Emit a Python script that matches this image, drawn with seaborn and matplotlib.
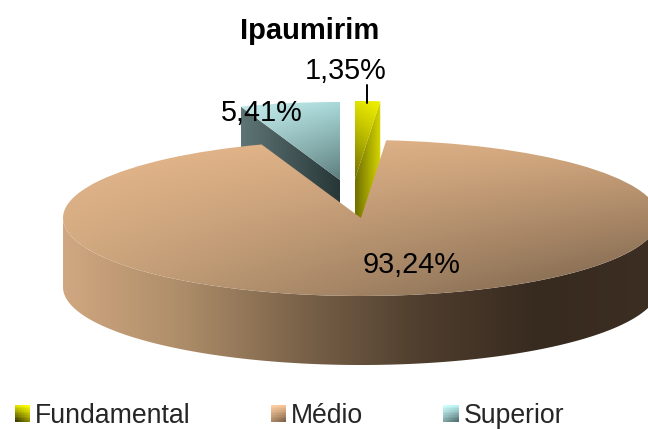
import numpy as np
import matplotlib
matplotlib.use("Agg")
import matplotlib.pyplot as plt
import seaborn as sns
from matplotlib.colors import to_rgb
from matplotlib.legend_handler import HandlerBase
from matplotlib.patches import Patch, Polygon, Rectangle

categories = ["Fundamental", "Médio", "Superior"]
values = [1.35, 93.24, 5.41]
value_labels = ["1,35%", "93,24%", "5,41%"]
title = "Ipaumirim"

W, H = 648, 429
CX, CY, RX, RY, DEPTH = 361, 218, 298, 78, 69
centers_px = {"Fundamental": (355, 179), "Médio": (361, 218), "Superior": (340, 180)}

top_colors = {  # corners: TL, TR, BL, BR
    "Fundamental": ("#e2e200", "#f0f000", "#6e6e00", "#a8a800"),
    "Médio": ("#e8b98e", "#d4a97f", "#c9a37b", "#77604a"),
    "Superior": ("#c6eded", "#aadada", "#8fb5b5", "#5d7c7c"),
}
wall_stops = {
    "Fundamental": ["#6e6e00", "#d8d800"],
    "Médio": ["#d0a780", "#ad8d69", "#7a6249", "#4f3e2e", "#372a1f", "#3c2e22"],
    "Superior": ["#5f7575", "#273637"],
}
legend_corners = {
    "Fundamental": ("#dede00", "#ffff00", "#3a3a00", "#8c8c00"),
    "Médio": ("#ffcfa0", "#f4c295", "#b08c68", "#7d6449"),
    "Superior": ("#d0ffff", "#b8f0f0", "#80a8a8", "#557070"),
}

sns.set_theme(style="white")
plt.rcParams["font.family"] = ["Liberation Sans", "DejaVu Sans"]
fig, ax = plt.subplots(figsize=(W / 100, H / 100), dpi=100)
fig.subplots_adjust(0, 0, 1, 1)


def bilinear(corners, n=64):
    tl, tr, bl, br = [np.array(to_rgb(c)) for c in corners]
    u, v = np.meshgrid(np.linspace(0, 1, n), np.linspace(0, 1, n))
    u, v = u[..., None], v[..., None]
    return (tl * (1 - u) + tr * u) * (1 - v) + (bl * (1 - u) + br * u) * v


def to_data(px, py):
    return (px - CX) / RX, (CY - py) / RY


wedges, _ = ax.pie(values, startangle=90, counterclock=False, radius=1)
depth = DEPTH / RY
for name, wedge in zip(categories, wedges):
    cx, cy = to_data(*centers_px[name])
    wedge.set_center((cx, cy))
    wedge.set_facecolor("none")
    wedge.set_edgecolor("none")
    base = 10 if name == "Médio" else 1
    # side wall: rim front for the large slice, the cut face for the pulled-out ones
    if name == "Médio":
        t = np.radians(np.linspace(180, 360, 240))
        xs, ys = cx + np.cos(t), cy + np.sin(t)
        verts = np.r_[np.c_[xs, ys], np.c_[xs[::-1], ys[::-1] - depth]]
        x0, x1 = cx - 1, cx + 1
    else:
        edge = np.radians(wedge.theta1 if name == "Fundamental" else wedge.theta2)
        ex, ey = cx + np.cos(edge), cy + np.sin(edge)
        verts = np.array([[ex, ey], [cx, cy], [cx, cy - depth], [ex, ey - depth]])
        x0, x1 = verts[:, 0].min(), verts[:, 0].max()
    wall = Polygon(verts, closed=True, facecolor="none", edgecolor="none")
    ax.add_patch(wall)
    pal = np.array(sns.blend_palette(wall_stops[name], 256))
    if name != "Médio" and ex > cx:
        grad = pal
    elif name != "Médio":
        grad = pal
    else:
        grad = pal
    im = ax.imshow(grad[None, :, :], extent=(x0, x1, verts[:, 1].min(), verts[:, 1].max()),
                   aspect="auto", zorder=base, interpolation="bilinear")
    im.set_clip_path(wall)
    # top face
    wedge.set_zorder(base + 2)
    th = np.radians(np.linspace(wedge.theta1, wedge.theta2, 100))
    px_ = np.r_[cx, cx + np.cos(th)]
    py_ = np.r_[cy, cy + np.sin(th)]
    top = ax.imshow(bilinear(top_colors[name]), extent=(px_.min(), px_.max(), py_.min(), py_.max()),
                    aspect="auto", zorder=base + 1, interpolation="bilinear")
    top.set_clip_path(wedge)


def label(text, px, py, **kw):
    ax.text(*to_data(px, py), text, ha="center", va="center", color="black", zorder=30, **kw)


label(value_labels[0], 346, 71, fontsize=20.8)
label(value_labels[2], 262, 113, fontsize=20.8)
label(value_labels[1], 412, 265, fontsize=20.8)
ax.plot(*zip(to_data(367, 85), to_data(367, 103)), color="black", lw=1.4, zorder=30)
label(title, 310, 31, fontsize=21, fontweight="bold")


class GradientKey(HandlerBase):
    def create_artists(self, legend, orig, xd, yd, width, height, fontsize, trans):
        n = 10
        arr = bilinear(legend_corners[orig.get_label()], n)
        cells = []
        for i in range(n):
            for j in range(n):
                cells.append(Rectangle((-xd + width * j / n, -yd + height * (n - 1 - i) / n),
                                       width / n + 0.2, height / n + 0.2,
                                       facecolor=arr[i, j], edgecolor="none",
                                       antialiased=False, transform=trans))
        return cells


handles = [Patch(label=c) for c in categories]
leg = fig.legend(handles=handles, labels=categories, ncol=3, loc="lower left",
                 bbox_to_anchor=(15 / W, 0), borderaxespad=0, borderpad=0,
                 frameon=False, fontsize=19.2, handlelength=0.56, handleheight=0.56,
                 handletextpad=0.2, columnspacing=3.0,
                 handler_map={Patch: GradientKey()})

ax.set_xlim(-CX / RX, (W - CX) / RX)
ax.set_ylim((CY - H) / RY, CY / RY)
ax.set_aspect("auto")
ax.set_axis_off()
fig.savefig("out.png", dpi=100)
